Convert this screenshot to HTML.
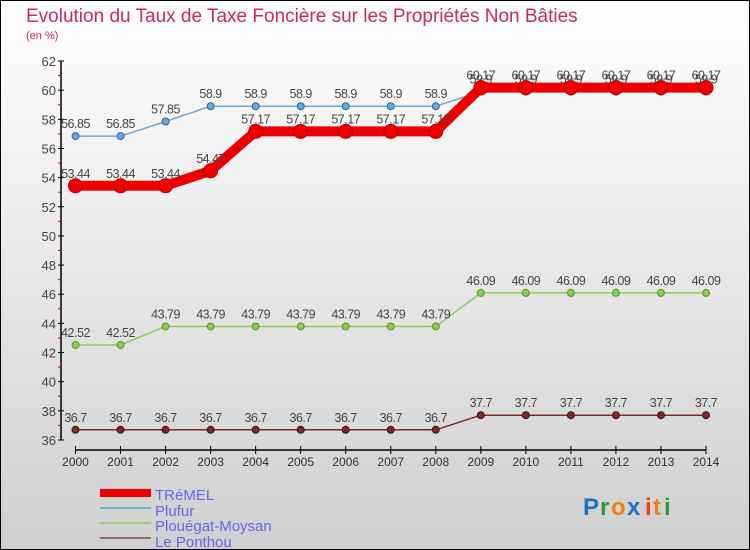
<!DOCTYPE html>
<html><head><meta charset="utf-8"><style>
body{margin:0}
svg{display:block;font-family:"Liberation Sans",sans-serif}
</style></head><body>
<svg id="c" width="750" height="550" xmlns="http://www.w3.org/2000/svg">
<defs><linearGradient id="bg" x1="0" y1="0" x2="0" y2="1"><stop offset="0" stop-color="#ffffff"/><stop offset="1" stop-color="#cfcfcf"/></linearGradient></defs>
<rect x="0.5" y="0.5" width="749" height="549" fill="url(#bg)" stroke="#000"/>
<text x="26" y="22" font-size="19" fill="#cc2a5c">Evolution du Taux de Taxe Foncière sur les Propriétés Non Bâties</text>
<text x="26" y="39" font-size="11" fill="#cc2a5c">(en %)</text>
<g id="plot"></g>
<g>
<rect x="100" y="489" width="51" height="8" fill="#ee0000"/>
<text x="155" y="500" font-size="15" fill="#6666ee">TRéMEL</text>
<rect x="100" y="507" width="51" height="2" fill="#7aaed0"/>
<text x="155" y="516" font-size="15" fill="#6666ee">Plufur</text>
<rect x="100" y="522" width="51" height="2" fill="#99cc77"/>
<text x="155" y="531" font-size="15" fill="#6666ee">Plouégat-Moysan</text>
<rect x="100" y="537" width="51" height="2" fill="#996666"/>
<text x="155" y="547" font-size="15" fill="#6666ee">Le Ponthou</text>
</g>
<g font-size="24" font-weight="bold">
<text x="583" y="515" fill="#1a73c8">P</text><text x="600" y="515" fill="#2a9a3a">r</text><text x="611" y="515" fill="#f08010">o</text><text x="627" y="515" fill="#1a73c8">x</text><text x="645" y="515" fill="#f04010">i</text><text x="653" y="515" fill="#f08010">t</text><text x="664" y="515" fill="#2a9a3a">i</text>
</g>
</svg>
<script>
const years=[2000,2001,2002,2003,2004,2005,2006,2007,2008,2009,2010,2011,2012,2013,2014];
const tremel=[53.44,53.44,53.44,54.47,57.17,57.17,57.17,57.17,57.17,60.17,60.17,60.17,60.17,60.17,60.17];
const plufur=[56.85,56.85,57.85,58.9,58.9,58.9,58.9,58.9,58.9,59.9,59.9,59.9,59.9,59.9,59.9];
const plouegat=[42.52,42.52,43.79,43.79,43.79,43.79,43.79,43.79,43.79,46.09,46.09,46.09,46.09,46.09,46.09];
const ponthou=[36.7,36.7,36.7,36.7,36.7,36.7,36.7,36.7,36.7,37.7,37.7,37.7,37.7,37.7,37.7];
const yTicks=[36,38,40,42,44,46,48,50,52,54,56,58,60,62];
const NS="http://www.w3.org/2000/svg";
const g=document.getElementById('plot');
const X=i=>75.5+i*(706-75.5)/(years.length-1);
const Y=v=>440-(v-36)*(440-61)/26;
function mk(t,a,p){const e=document.createElementNS(NS,t);for(const k in a)e.setAttribute(k,a[k]);(p||g).appendChild(e);return e;}
const ax=mk('g',{});


mk('line',{x1:61,y1:Y(62),x2:61,y2:Y(36),stroke:'#000','stroke-width':1.5},ax);
for(const t of yTicks){
 mk('line',{x1:58,y1:Y(t),x2:64,y2:Y(t),stroke:'#000'},ax);
 const tx=mk('text',{x:56,y:Y(t)+5,'font-size':13,fill:'#444','text-anchor':'end'},ax);tx.textContent=t;
 
 
 if(t<62) mk('line',{x1:58,y1:Y(t+1),x2:61,y2:Y(t+1),stroke:'#e00000'},ax);
}
const xa=mk('g',{});


mk('line',{x1:X(0),y1:450,x2:X(years.length-1),y2:450,stroke:'#000','stroke-width':1.5},xa);
years.forEach((yr,i)=>{
 mk('line',{x1:X(i),y1:446,x2:X(i),y2:454,stroke:'#000'},xa);
 const tx=mk('text',{x:X(i),y:466,'font-size':12,fill:'#333','text-anchor':'middle'},xa);tx.textContent=yr;
 
 
});
function series(name,vals,color,w,r,stroke){
 const s=mk('g',{});
 
 
 mk('polyline',{points:vals.map((v,i)=>X(i)+','+Y(v)).join(' '),fill:'none',stroke:color,'stroke-width':w,'stroke-linejoin':'round'},s);
 vals.forEach((v,i)=>{
  const c=mk('circle',{cx:X(i),cy:Y(v),r:r,fill:color,stroke:stroke,'stroke-width':1},s);
  
  
  const t=mk('text',{x:X(i),y:Y(v)-8,'font-size':12.5,fill:'#444','text-anchor':'middle','letter-spacing':'-0.5'},s);t.textContent=v;
  
  
 });
}
series('le-ponthou',ponthou,'#7a2a2a',1.5,3.5,'#4a1010');
series('plouegat-moysan',plouegat,'#88cc55',1.5,3.5,'#559922');
series('plufur',plufur,'#6aa8d8',1.5,3.5,'#2266aa');
series('tremel',tremel,'#ee0000',10,7,'#bb0000');
</script>
</body></html>
